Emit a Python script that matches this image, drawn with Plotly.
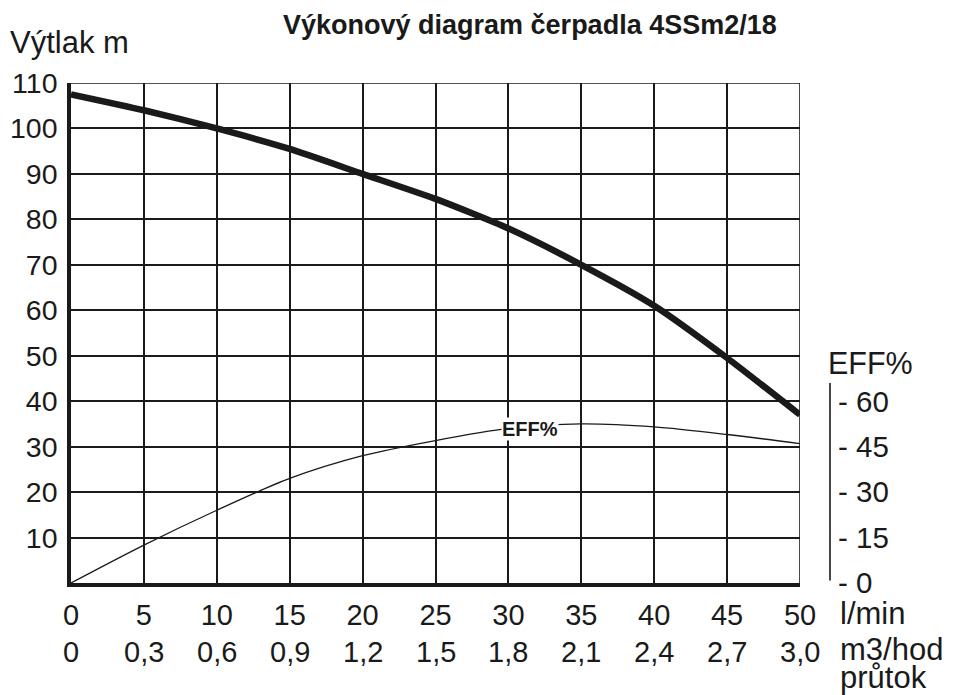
import plotly.graph_objects as go

# ---- data ----
flow_lmin = [0, 5, 10, 15, 20, 25, 30, 35, 40, 45, 50]
head_m = [107.5, 104, 100, 95.5, 90, 84.5, 78, 70, 61, 49.5, 37]
eff_pct = [0, 12.5, 24, 34.5, 42, 47, 51, 52.5, 51.5, 49, 46]

x_ticks = [0, 5, 10, 15, 20, 25, 30, 35, 40, 45, 50]
x_ticktext = ["0", "5", "10", "15", "20", "25", "30", "35", "40", "45", "50"]
m3h_ticktext = ["0", "0,3", "0,6", "0,9", "1,2", "1,5", "1,8", "2,1", "2,4", "2,7", "3,0"]
y_ticks = [10, 20, 30, 40, 50, 60, 70, 80, 90, 100, 110]
eff_ticks = [0, 15, 30, 45, 60]

FONT = "Liberation Sans, Arial, sans-serif"
INK = "#1a1a1a"

fig = go.Figure()
fig.add_trace(go.Scatter(x=flow_lmin, y=eff_pct, mode="lines",
                         line=dict(color=INK, width=1.3, shape="spline", smoothing=0.8),
                         xaxis="x", yaxis="y2", showlegend=False, hoverinfo="skip"))
fig.add_trace(go.Scatter(x=flow_lmin, y=head_m, mode="lines",
                         line=dict(color=INK, width=6.5, shape="spline", smoothing=0.6),
                         xaxis="x", yaxis="y", showlegend=False, hoverinfo="skip"))

# page body has an 8px margin; compensate
OFF = 8
W, H = 954 - OFF, 695 - OFF
L = 71 - OFF
T = 83 - OFF
PH = 500
B = H - T - PH
pw = (830 - 71)
R = W - L - pw
xdom_end = (800 - 71) / pw

fig.update_layout(
    width=W, height=H,
    margin=dict(l=L, r=R, t=T, b=B, autoexpand=False),
    paper_bgcolor="white", plot_bgcolor="white",
    font=dict(family=FONT, size=28, color=INK),
    xaxis=dict(domain=[0, xdom_end], range=[0, 50], tickvals=x_ticks, ticktext=x_ticktext,
               tickfont=dict(size=29),
               showgrid=True, gridcolor=INK, gridwidth=1.6,
               showline=True, linecolor=INK, linewidth=3.5, automargin=False,
               ticks="", zeroline=False, ticklabelstandoff=3, anchor="y"),
    yaxis=dict(domain=[0, 1], range=[0, 110], tickvals=y_ticks,
               tickfont=dict(size=28.5),
               showgrid=True, gridcolor=INK, gridwidth=1.6,
               showline=True, linecolor=INK, linewidth=3.5, automargin=False,
               ticks="", zeroline=False, ticklabelstandoff=4, anchor="x"),
    yaxis2=dict(range=[0, 165], tickvals=eff_ticks,
                ticktext=["- " + str(v) for v in eff_ticks],
                tickfont=dict(size=29.5),
                anchor="free", position=1.0, side="right", overlaying="y",
                showgrid=False, zeroline=False, showline=False, automargin=False,
                ticks="", ticklabelstandoff=7),
    shapes=[
        dict(type="line", xref="x", yref="y", x0=0, x1=50, y0=110, y1=110,
             line=dict(color=INK, width=1.6)),
        dict(type="line", xref="x", yref="y", x0=50, x1=50, y0=0, y1=110,
             line=dict(color=INK, width=1.6)),
        dict(type="line", xref="paper", yref="paper", x0=1.0, x1=1.0, y0=0.005, y1=0.4,
             line=dict(color=INK, width=1.6)),
    ],
)

def px_x(rx):
    return (rx - 71) / pw

def px_y(ry):
    return (583 - ry) / PH

ann = []
for xv, t in zip(x_ticks, m3h_ticktext):
    ann.append(dict(x=xv, y=px_y(652), xref="x", yref="paper", text=t,
                    showarrow=False, xanchor="center", yanchor="middle",
                    font=dict(size=29, family=FONT, color=INK)))
for t, py in [("l/min", 613), ("m3/hod", 649), ("průtok", 677)]:
    ann.append(dict(x=px_x(838), y=px_y(py), xref="paper", yref="paper", text=t,
                    showarrow=False, xanchor="left", yanchor="middle",
                    font=dict(size=31, family=FONT, color=INK)))
ann.append(dict(x=px_x(826), y=px_y(363), xref="paper", yref="paper", text="EFF%",
                showarrow=False, xanchor="left", yanchor="middle",
                font=dict(size=30.5, family=FONT, color=INK)))
ann.append(dict(x=px_x(8), y=px_y(43), xref="paper", yref="paper", text="Výtlak m",
                showarrow=False, xanchor="left", yanchor="middle",
                font=dict(size=31, family=FONT, color=INK)))
ann.append(dict(x=px_x(530), y=px_y(25), xref="paper", yref="paper",
                text="<b>Výkonový diagram čerpadla 4SSm2/18</b>",
                showarrow=False, xanchor="center", yanchor="middle",
                font=dict(size=27, family=FONT, color=INK)))
ann.append(dict(x=31.5, y=33.9, xref="x", yref="y", text="<b>EFF%</b>",
                showarrow=False, xanchor="center", yanchor="middle", bgcolor="white",
                borderpad=0, font=dict(size=20, family=FONT, color=INK)))
fig.update_layout(annotations=ann)

fig.write_html("out.html")
